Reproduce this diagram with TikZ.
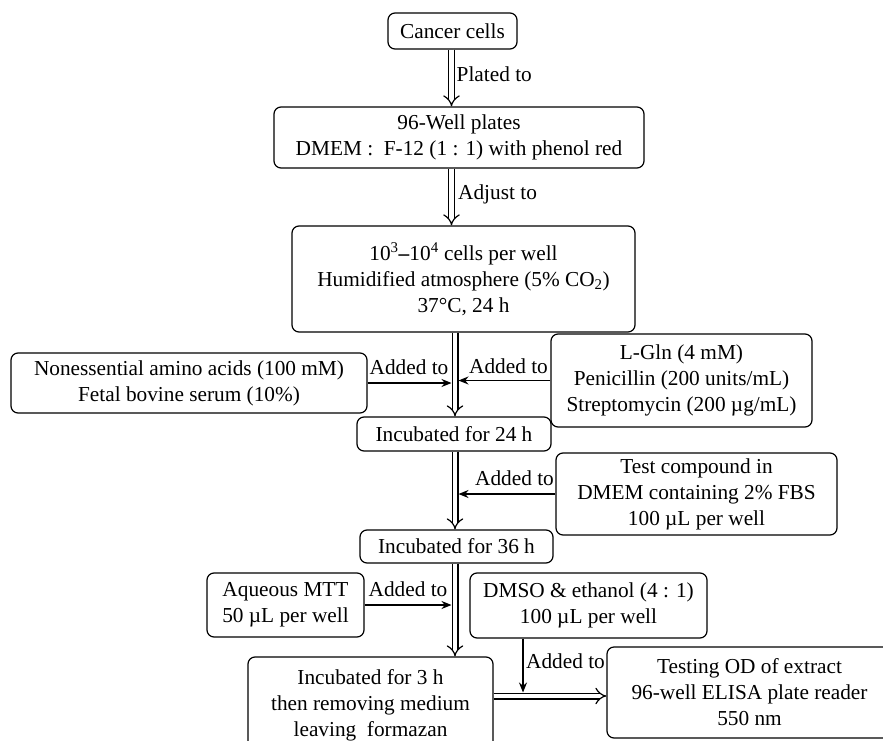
\documentclass[tikz,border=0pt]{standalone}
\usepackage{fontspec}
\setmainfont{Liberation Serif}
\usetikzlibrary{arrows.meta}
\begin{document}
\begin{tikzpicture}[x=1pt,y=-1pt,
  box/.style={draw, rounded corners=7pt, line width=1.2pt, align=center, inner sep=0pt, font=\fontsize{21.3}{26}\selectfont},
  lbl/.style={inner sep=0pt, font=\fontsize{21.3}{26}\selectfont},
  dbl/.style={double, double distance=4.6pt, line width=1.2pt, -{Implies}},
  sarr/.style={line width=1.2pt, -{Stealth[length=10pt,width=8pt]}}]
\useasboundingbox (0,0) rectangle (883,741);
% boxes
\node[box, minimum width=129pt, minimum height=36pt] (cancer) at (452.5,31) {Cancer cells};
\node[box, minimum width=370pt, minimum height=61pt] (plates) at (459,137.5) {96-Well plates\\DMEM :\ \ F-12 (1 : 1) with phenol red};
\node[box, minimum width=343pt, minimum height=106pt] (cells) at (463.5,279) {10\textsuperscript{3}\textbf{--}10\textsuperscript{4} cells per well\\Humidified atmosphere (5\% CO\textsubscript{2})\\37°C, 24 h};
\node[box, minimum width=356pt, minimum height=60pt] (ness) at (189,383) {Nonessential amino acids (100 mM)\\Fetal bovine serum (10\%)};
\node[box, minimum width=261pt, minimum height=93pt] (lgln) at (681.5,380.5) {L-Gln (4 mM)\\Penicillin (200 units/mL)\\Streptomycin (200 µg/mL)};
\node[box, minimum width=194pt, minimum height=34pt] (inc24) at (454,434) {Incubated for 24 h};
\node[box, minimum width=281pt, minimum height=82pt] (test) at (696.5,494) {Test compound in\\DMEM containing 2\% FBS\\100 µL per well};
\node[box, minimum width=193pt, minimum height=33pt] (inc36) at (456.5,546.5) {Incubated for 36 h};
\node[box, minimum width=157pt, minimum height=64pt] (mtt) at (285.5,605) {Aqueous MTT\\50 µL per well};
\node[box, minimum width=237pt, minimum height=65pt] (dmso) at (588.5,605.5) {DMSO \& ethanol (4 : 1)\\100 µL per well};
\node[box, minimum width=245pt, minimum height=96pt] (inc3) at (370.5,705) {Incubated for 3 h\\then removing medium\\leaving\ \ formazan};
\node[box, minimum width=285pt, minimum height=91pt] (od) at (749.5,692.5) {Testing OD of extract\\96-well ELISA plate reader\\550 nm};
% axis coordinates
\coordinate (ax1) at (451.5,0);
\coordinate (ax2) at (455,0);
\coordinate (axL) at (451.5,0);
\coordinate (axR) at (458.5,0);
\coordinate (hy) at (0,696);
\coordinate (hyT) at (523,692.5);
% double arrows
\draw[dbl] (cancer.south -| ax1) -- (plates.north -| ax1);
\draw[dbl] (plates.south -| ax1) -- (cells.north -| ax1);
\draw[dbl] (cells.south -| ax2) -- (inc24.north -| ax2);
\draw[dbl] (inc24.south -| ax2) -- (inc36.north -| ax2);
\draw[dbl] (inc36.south -| ax2) -- (inc3.north -| ax2);
\draw[dbl] (inc3.east |- hy) -- (od.west |- hy);
% single arrows
\draw[sarr] (ness.east) -- (ness.east -| axL);
\draw[sarr] (lgln.west) -- (lgln.west -| axR);
\draw[sarr] (test.west) -- (test.west -| axR);
\draw[sarr] (mtt.east) -- (mtt.east -| axL);
\draw[sarr] (dmso.south -| hyT) -- (hyT);
% labels
\node[lbl, anchor=west] (l1) at (456.5,74) {Plated to};
\node[lbl, anchor=west] (l2) at (458,194) {Adjust to};
\node[lbl] (l3) at (409,367) {Added to};
\node[lbl] (l4) at (508.5,366) {Added to};
\node[lbl] (l5) at (514.5,478) {Added to};
\node[lbl] (l6) at (408,589) {Added to};
\node[lbl] (l7) at (565.5,661) {Added to};
\end{tikzpicture}
\end{document}
